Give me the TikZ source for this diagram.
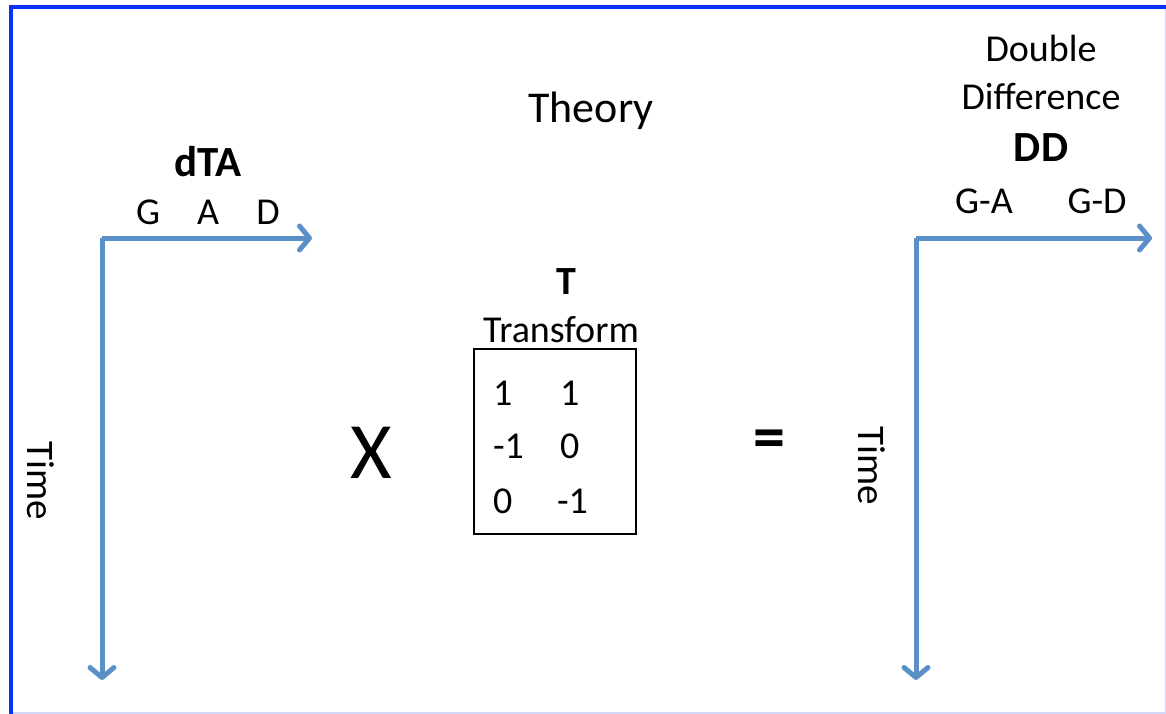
\documentclass[tikz,border=0pt]{standalone}
\usepackage{fontspec}
\setmainfont{Carlito}
\usetikzlibrary{arrows.meta}
\definecolor{frameblue}{HTML}{0A32FF}
\definecolor{axisblue}{HTML}{5B8FC8}
\definecolor{faintblue}{HTML}{D2D8F6}

\begin{document}
\begin{tikzpicture}[
  x=1pt,y=-1pt,
  every node/.style={inner sep=0pt,outer sep=0pt},
  txt/.style={font=\fontsize{38}{44}\selectfont,anchor=base},
  big/.style={font=\fontsize{44}{50}\selectfont,anchor=base},
  heading/.style={font=\bfseries\fontsize{43}{48}\selectfont,anchor=base},
  entry/.style={font=\fontsize{38}{44}\selectfont,anchor=base west},
  timelbl/.style={font=\fontsize{39}{44}\selectfont,rotate=-90},
  axis/.style={draw=axisblue,line width=5pt,
    -{Straight Barb[length=10pt,width=24pt,line cap=round,line join=round]}},
  tbox/.style={draw=black,line width=1.6pt,minimum width=162pt,minimum height=185pt}
]
\useasboundingbox (0,0) rectangle (1166,714);
% frame
\draw[faintblue,line width=1.5pt] (11,713) -- (1166,713);
\draw[faintblue,line width=1pt] (1165.5,7) -- (1165.5,714);
\draw[frameblue,line width=4pt] (9,7.3) -- (1166,7.3);
\draw[frameblue,line width=4pt] (10.8,5.3) -- (10.8,714);

\node[big] (theory) at (591,123) {Theory};

% left axes
\coordinate (lo) at (102,238);
\coordinate (lx) at (312,238);
\coordinate (ly) at (102,680);
\draw[axis] (lo) -- (lx);
\draw[axis] (lo) -- (ly);
\node[heading] (dta) at (208,177) {dTA};
\node[txt] (colg) at (148,224) {G};
\node[txt] (cola) at (208,224) {A};
\node[txt] (cold) at (268,224) {D};
\node[timelbl] (ltime) at (41,481) {Time};

\node[font=\fontsize{80}{90}\selectfont,anchor=base] (times) at (371,478) {X};

% transform
\node[heading,font=\bfseries\fontsize{40}{46}\selectfont] (tname) at (566,294) {T};
\node[txt] (tlabel) at (561,342) {Transform};
\node[tbox] (tmat) at (555,441.5) {};
\node[entry] (m11) at (493,405) {1};
\node[entry] (m12) at (560,405) {1};
\node[entry] (m21) at (493,458) {-1};
\node[entry] (m22) at (560,458) {0};
\node[entry] (m31) at (493,513) {0};
\node[entry] (m32) at (557,513) {-1};

\node[font=\bfseries\fontsize{64}{70}\selectfont] (equals) at (769,444) {=};

% right axes
\coordinate (ro) at (916,238);
\coordinate (rx) at (1152,238);
\coordinate (ry) at (916,680);
\draw[axis] (ro) -- (rx);
\draw[axis] (ro) -- (ry);
\node[txt] (dbl) at (1041,62) {Double};
\node[txt] (diff) at (1041,110) {Difference};
\node[heading] (dd) at (1041,162) {DD};
\node[txt] (colga) at (984,213) {G-A};
\node[txt] (colgd) at (1097,213) {G-D};
\node[timelbl] (rtime) at (872,466) {Time};
\end{tikzpicture}
\end{document}
